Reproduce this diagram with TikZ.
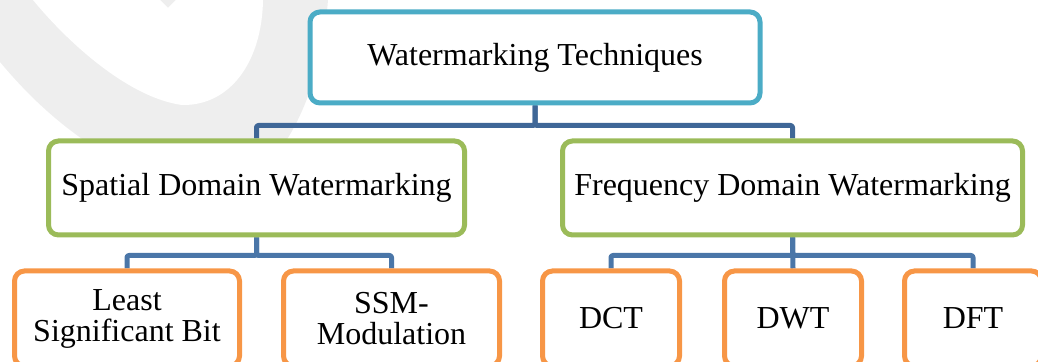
\documentclass[tikz,border=0pt]{standalone}
\usepackage{fontspec}
\setmainfont{Liberation Serif}
\usetikzlibrary{positioning,backgrounds}

\definecolor{rootline}{HTML}{4BACC6}
\definecolor{domainline}{HTML}{9BBB59}
\definecolor{methodline}{HTML}{F79646}
\definecolor{linkdark}{HTML}{3F6797}
\definecolor{linklight}{HTML}{4A76A8}
\definecolor{wmark}{HTML}{EEEEEE}

\begin{document}
\begin{tikzpicture}[x=0.5pt,y=-0.5pt,
  box/.style={rectangle,rounded corners=5pt,line width=2.5pt,fill=white,
    inner sep=0pt,font=\fontsize{16}{15.5}\selectfont,align=center},
  rootbox/.style={box,draw=rootline,minimum width=225pt,minimum height=45.5pt},
  domainbox/.style={box,draw=domainline,minimum height=47pt},
  methodbox/.style={box,draw=methodline,minimum width=68.5pt,minimum height=47.5pt},
  link/.style={line width=2.5pt,line join=round,rounded corners=1pt}]
\clip (0,0) rectangle (1038,362);

\node[rootbox] (root) at (535,57.5) {Watermarking Techniques};
\node[domainbox,minimum width=208pt] (spatial) at (256.5,188) {Spatial Domain Watermarking};
\node[domainbox,minimum width=230pt] (freq) at (792.5,188) {Frequency Domain Watermarking};
\node[methodbox,minimum width=112.5pt] (lsb) at (127,318.5) {Least\\Significant Bit};
\node[methodbox,minimum width=108pt] (ssm) at (391.5,318.5) {SSM-\\Modulation};
\node[methodbox] (dct) at (611,318.5) {DCT};
\node[methodbox] (dwt) at (793,318.5) {DWT};
\node[methodbox] (dft) at (973,318.5) {DFT};

\begin{scope}[on background layer]
% faint mark behind the chart
\fill[wmark] (0,0) -- (0,62) .. controls (25,92) and (52,118) .. (85,141)
  -- (286,141) .. controls (312,100) and (324,50) .. (328,0) -- cycle;
\fill[white] (33,0) .. controls (70,45) and (130,98) .. (182,105)
  .. controls (230,106) and (262,62) .. (263,0) -- (176,0) -- (168,8) -- (160,0) -- cycle;
\draw[link,draw=linkdark] (root.south) -- ++(0,20) -| (spatial.north);
\draw[link,draw=linkdark] (root.south) -- ++(0,20) -| (freq.north);
\draw[link,draw=linklight] (spatial.south) -- ++(0,18) -| (lsb.north);
\draw[link,draw=linklight] (spatial.south) -- ++(0,18) -| (ssm.north);
\draw[link,draw=linklight] (freq.south) -- ++(0,18) -| (dct.north);
\draw[link,draw=linklight] (freq.south) -- ++(0,18) -| (dft.north);
\draw[link,draw=linklight] (freq.south) -- (dwt.north);
\end{scope}
\end{tikzpicture}
\end{document}
